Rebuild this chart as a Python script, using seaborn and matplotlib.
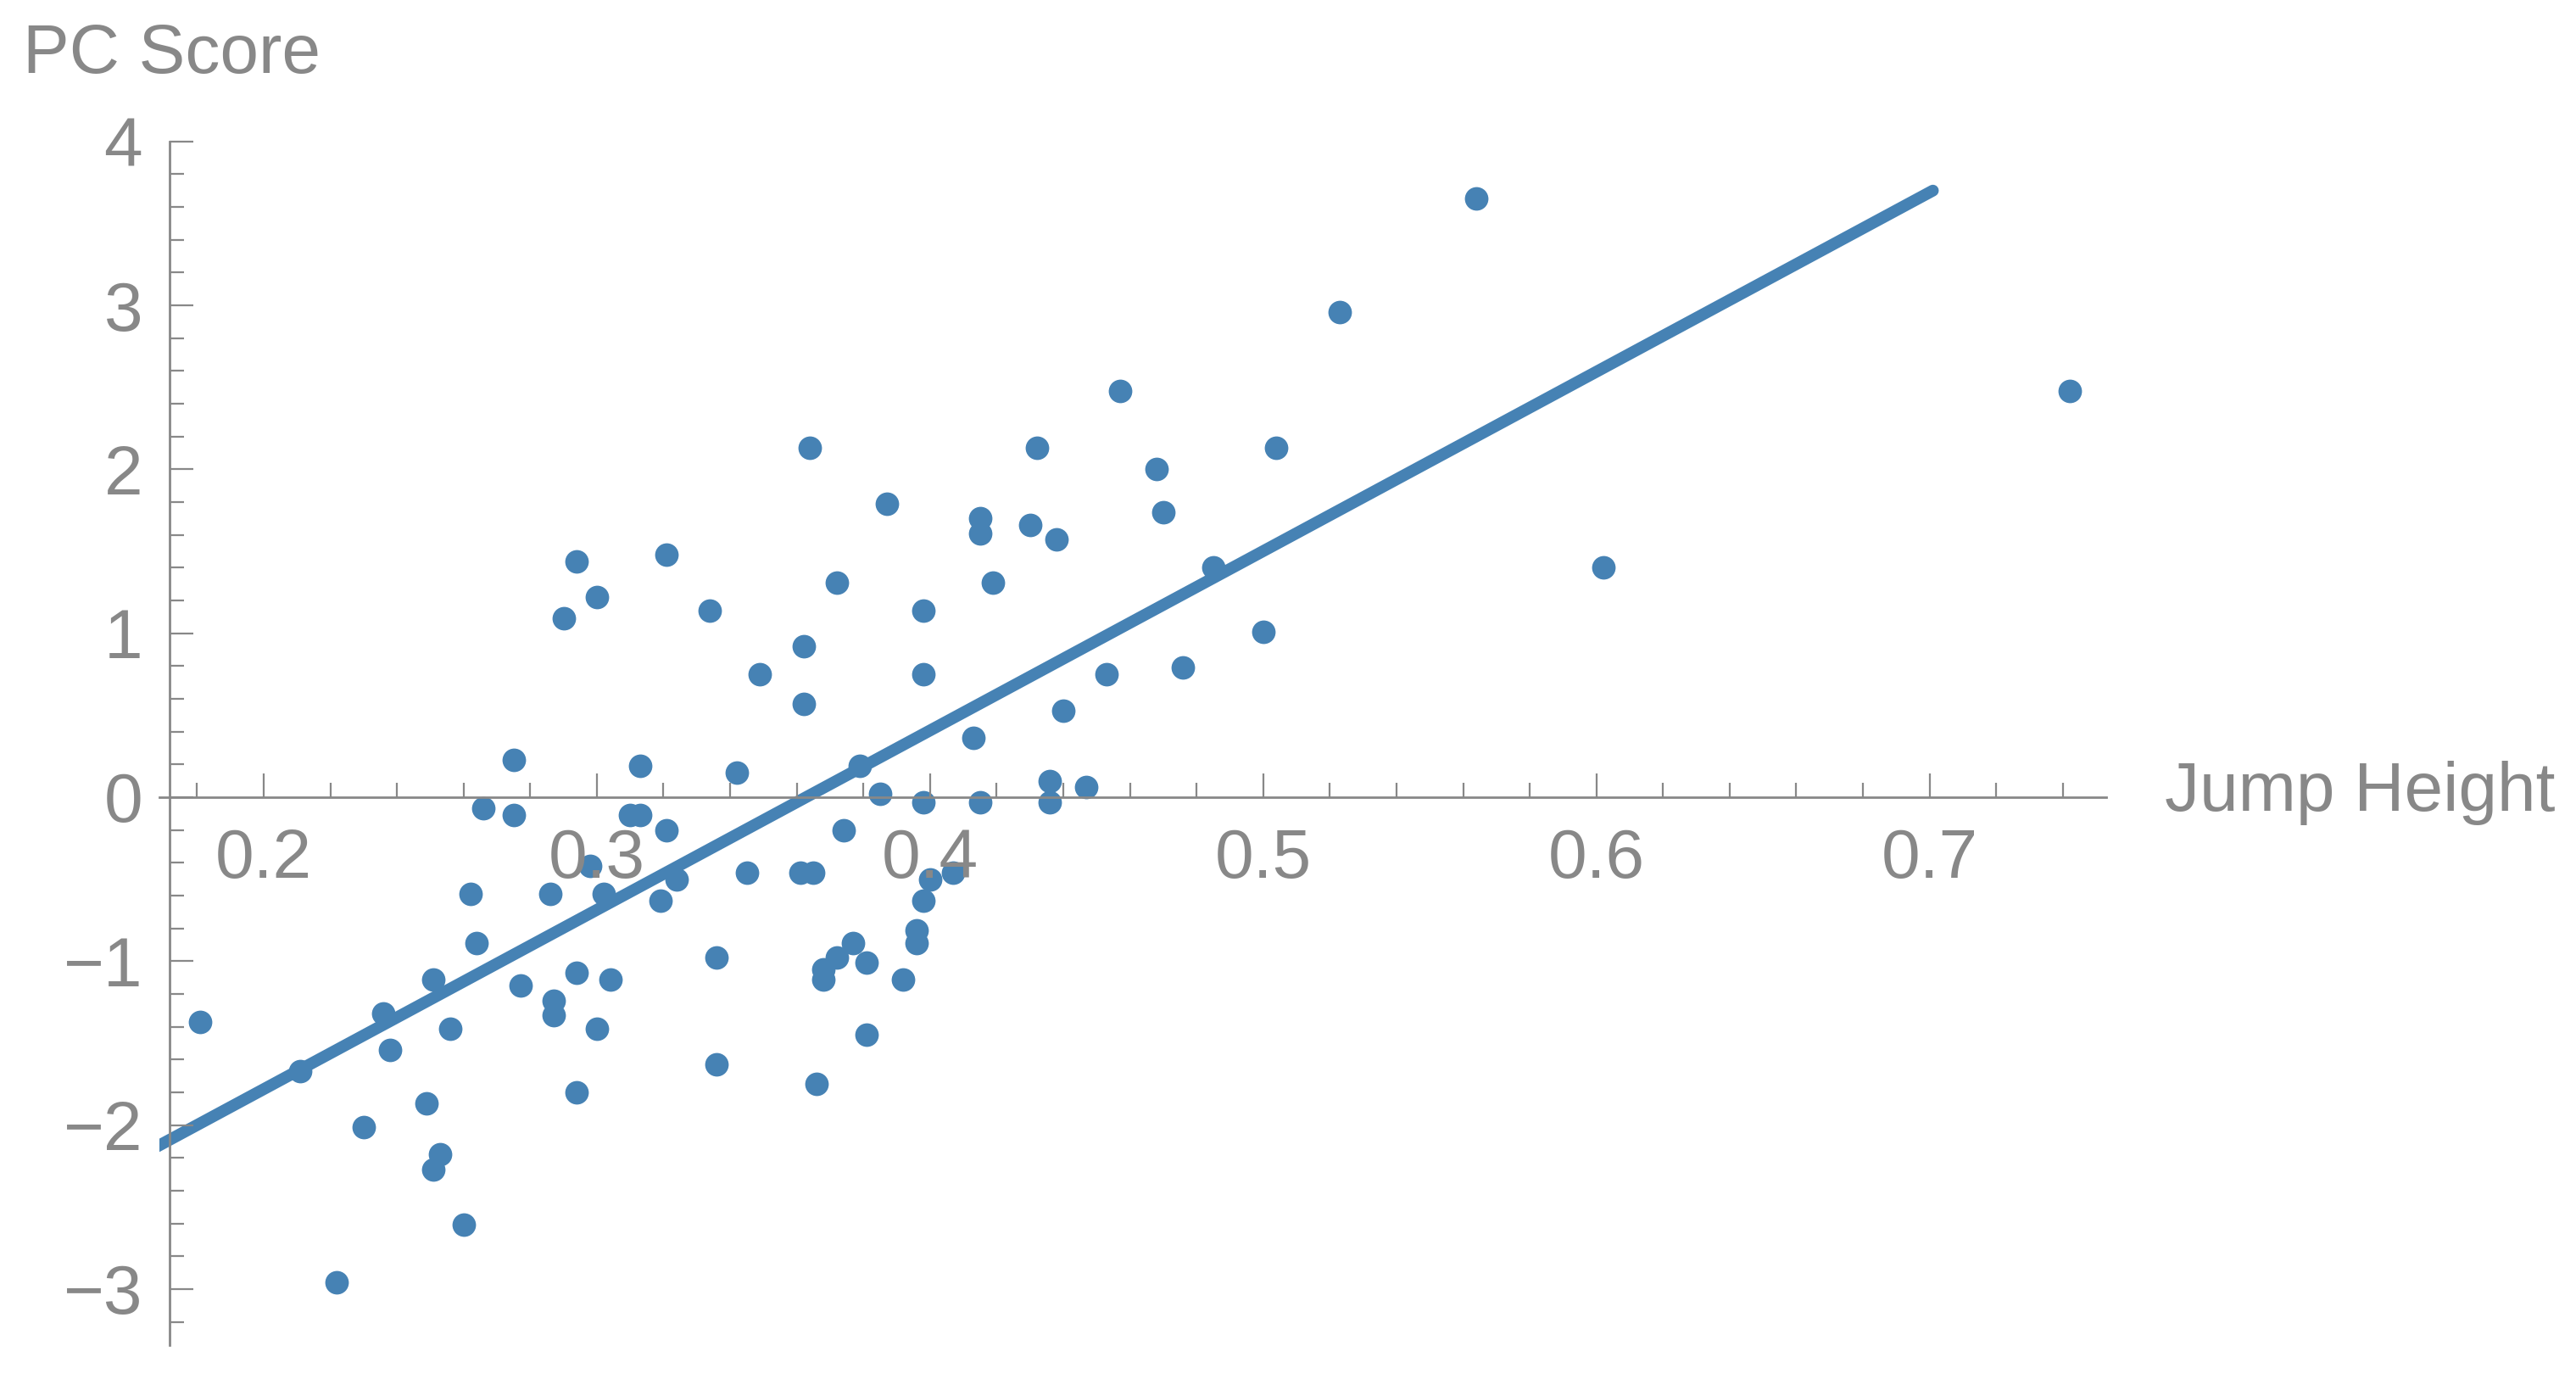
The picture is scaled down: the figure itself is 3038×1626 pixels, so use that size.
import numpy as np
import pandas as pd
import matplotlib
matplotlib.use("Agg")
import matplotlib.pyplot as plt
from matplotlib.ticker import MultipleLocator
import seaborn as sns

# Values
jump_height = [
    0.181, 0.211, 0.222, 0.230, 0.236, 0.238, 0.249, 0.251, 0.251, 0.253,
    0.256, 0.260, 0.262, 0.264, 0.266, 0.275, 0.275, 0.277, 0.286, 0.287,
    0.287, 0.290, 0.294, 0.294, 0.294, 0.298, 0.300, 0.300, 0.302, 0.304,
    0.310, 0.313, 0.313, 0.319, 0.321, 0.321, 0.324, 0.334, 0.336, 0.336,
    0.342, 0.345, 0.349, 0.362, 0.362, 0.361, 0.364, 0.365, 0.366, 0.368,
    0.368, 0.372, 0.372, 0.374, 0.377, 0.379, 0.381, 0.381, 0.385, 0.387,
    0.392, 0.396, 0.396, 0.398, 0.398, 0.398, 0.398, 0.400, 0.407, 0.413,
    0.415, 0.415, 0.415, 0.419, 0.430, 0.432, 0.436, 0.436, 0.438, 0.440,
    0.447, 0.453, 0.457, 0.468, 0.470, 0.476, 0.485, 0.500, 0.504, 0.523,
    0.564, 0.602, 0.742,
]
pc_score = [
    -1.37, -1.67, -2.96, -2.01, -1.32, -1.54, -1.87, -2.27, -1.11, -2.18,
    -1.41, -2.61, -0.59, -0.89, -0.07, 0.23, -0.11, -1.15, -0.59, -1.24,
    -1.33, 1.09, 1.44, -1.07, -1.80, -0.42, 1.22, -1.41, -0.59, -1.11,
    -0.11, -0.11, 0.19, -0.63, 1.48, -0.20, -0.50, 1.14, -0.98, -1.63,
    0.15, -0.46, 0.75, 0.92, 0.57, -0.46, 2.13, -0.46, -1.75, -1.05,
    -1.11, -0.98, 1.31, -0.20, -0.89, 0.19, -1.01, -1.45, 0.02, 1.79,
    -1.11, -0.81, -0.89, -0.63, 1.14, 0.75, -0.03, -0.50, -0.46, 0.36,
    1.70, 1.61, -0.03, 1.31, 1.66, 2.13, 0.10, -0.03, 1.57, 0.53,
    0.06, 0.75, 2.48, 2.00, 1.74, 0.79, 1.40, 1.01, 2.13, 2.96,
    3.65, 1.40, 2.48,
]

# fitted line, end points
fit_x = [0.1672, 0.701]
fit_y = [-2.14, 3.70]

x_label = "Jump Height"
y_label = "PC Score"

blue = "#4682B4"
grey = "#888888"

sns.set_theme(style="white")
plt.rcParams['font.family'] = ['Liberation Sans', 'DejaVu Sans']

df = pd.DataFrame({"jump": jump_height, "pc": pc_score})
line_df = pd.DataFrame({"jump": fit_x, "pc": fit_y})

fig = plt.figure(figsize=(15.19, 8.13), dpi=200)
ax = fig.add_axes([0.0620, 0.02485, 0.7556, 0.8726])

sns.scatterplot(data=df, x="jump", y="pc", ax=ax, color=blue, s=100,
                linewidth=0, zorder=1)
sns.lineplot(data=line_df, x="jump", y="pc", ax=ax, color=blue, lw=5,
             zorder=2)

ax.set_xlim(0.1688, 0.753)
ax.set_ylim(-3.34, 4.0)

# Mathematica-style crossing axes
ax.spines['left'].set_position(('data', 0.1718))
ax.spines['bottom'].set_position(('data', 0))
ax.spines['right'].set_visible(False)
ax.spines['top'].set_visible(False)
for side in ['left', 'bottom']:
    ax.spines[side].set_color(grey)
    ax.spines[side].set_linewidth(1.0)

ax.xaxis.set_major_locator(MultipleLocator(0.1))
ax.xaxis.set_minor_locator(MultipleLocator(0.02))
ax.yaxis.set_major_locator(MultipleLocator(1))
ax.yaxis.set_minor_locator(MultipleLocator(0.2))
ax.set_xticks([0.2, 0.3, 0.4, 0.5, 0.6, 0.7])
ax.set_xticklabels(["0.2", "0.3", "0.4", "0.5", "0.6", "0.7"])

ax.tick_params(axis='both', which='both', direction='in', colors=grey,
               width=0.8, labelsize=29.5, labelcolor=grey,
               bottom=True, left=True, top=False, right=False)
ax.tick_params(axis='both', which='major', length=10)
ax.tick_params(axis='both', which='minor', length=6)
ax.tick_params(axis='x', pad=13)
ax.tick_params(axis='y', pad=11.5)
ax.set_axisbelow(False)

ax.set_xlabel("")
ax.set_ylabel("")
ax.grid(False)

fig.text(27 / 3038, 1 - 86 / 1626, y_label, color=grey, fontsize=29.5,
         ha='left', va='baseline')
fig.text(2553 / 3038, 1 - 935 / 1626, x_label, color=grey, fontsize=29.5,
         ha='left', va='center')

fig.savefig("out.png", dpi=200)
